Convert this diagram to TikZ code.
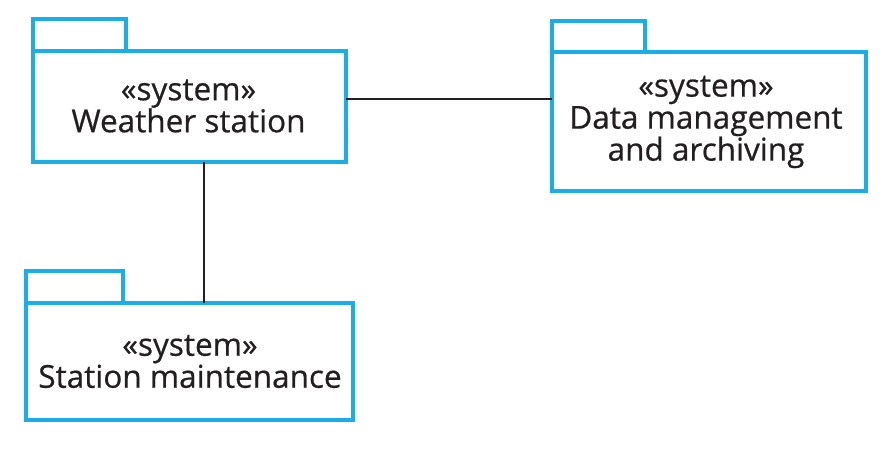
\documentclass[tikz,border=0pt]{standalone}
\usepackage{fontspec}
\setmainfont{Open Sans}
\newfontfamily\lblfont[FakeBold=0.6]{Open Sans}
\definecolor{pkgblue}{HTML}{1AAEE5}
\definecolor{txt}{HTML}{231F20}
\begin{document}
\begin{tikzpicture}[x=1pt,y=-1pt,
  pkg/.style={draw=pkgblue,line width=3.8pt},
  lbl/.style={align=center,font=\lblfont\fontsize{31.5}{32}\selectfont,text=txt,inner sep=0pt},
  conn/.style={draw=txt,line width=1.3pt}]
\useasboundingbox (0,0) rectangle (890,453);
% Weather station
\draw[pkg] (33,51) rectangle (126,19);
\draw[pkg] (33,51) rectangle (346,162);
\coordinate (ws-r) at (346,99);
\coordinate (ws-b) at (204,162);
\node[lbl] (ws) at (188.5,106) {«system»\\Weather station};
% Data management
\draw[pkg] (552,52) rectangle (645,21);
\draw[pkg] (552,52) rectangle (866,191);
\coordinate (dm-l) at (552,99);
\node[lbl] (dm) at (706,122) {«system»\\Data management\\and archiving};
% Station maintenance
\draw[pkg] (26,303) rectangle (123,271);
\draw[pkg] (26,303) rectangle (353,420);
\coordinate (sm-t) at (204,303);
\node[lbl] (sm) at (190,361.5) {«system»\\Station maintenance};
% connectors
\draw[conn] (ws-r) -- (dm-l);
\draw[conn] (ws-b) -- (sm-t);
\end{tikzpicture}
\end{document}
